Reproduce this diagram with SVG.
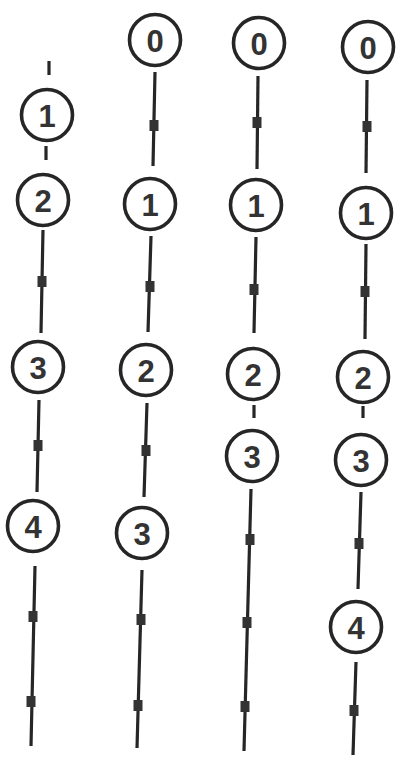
<svg xmlns="http://www.w3.org/2000/svg" width="403" height="757" viewBox="0 0 403 757">
<style>
.n circle{fill:#fff;stroke:#262626;stroke-width:3.6}
.n text{font-family:"Liberation Sans",Arial,sans-serif;font-weight:bold;font-size:31px;fill:#333;text-anchor:middle;dominant-baseline:central}
.e line{stroke:#262626;stroke-width:3.2}
.m{fill:#333}
</style>
<rect width="403" height="757" fill="#fff"/>
<g id="connectors" class="e">
<line x1="49" y1="61" x2="49" y2="75"/>
<line x1="46" y1="146" x2="46" y2="160"/>
<line x1="43" y1="230" x2="41" y2="333"/>
<line x1="39" y1="400" x2="37" y2="492"/>
<line x1="35" y1="566" x2="31" y2="746"/>
<line x1="155" y1="72" x2="153" y2="166"/>
<line x1="151" y1="236" x2="148" y2="332"/>
<line x1="147" y1="403" x2="144" y2="497"/>
<line x1="142" y1="570" x2="137" y2="748"/>
<line x1="258" y1="76" x2="257" y2="169"/>
<line x1="256" y1="237" x2="254" y2="333"/>
<line x1="254" y1="405" x2="254" y2="418"/>
<line x1="251" y1="489" x2="244" y2="751"/>
<line x1="367" y1="80" x2="366" y2="173"/>
<line x1="366" y1="244" x2="365" y2="339"/>
<line x1="363" y1="406" x2="363" y2="418"/>
<line x1="361" y1="492" x2="358" y2="589"/>
<line x1="356" y1="662" x2="353" y2="755"/>
<rect class="m" x="37.5" y="276" width="9" height="11"/>
<rect class="m" x="33.5" y="440" width="9" height="11"/>
<rect class="m" x="28.5" y="611" width="9" height="11"/>
<rect class="m" x="26.5" y="696" width="9" height="11"/>
<rect class="m" x="149.5" y="120" width="9" height="11"/>
<rect class="m" x="145.5" y="281" width="9" height="11"/>
<rect class="m" x="141.5" y="445" width="9" height="11"/>
<rect class="m" x="136.5" y="614" width="9" height="11"/>
<rect class="m" x="133.5" y="700" width="9" height="11"/>
<rect class="m" x="252.5" y="117" width="9" height="11"/>
<rect class="m" x="249.5" y="284" width="9" height="11"/>
<rect class="m" x="245.5" y="534" width="9" height="11"/>
<rect class="m" x="242.5" y="617" width="9" height="11"/>
<rect class="m" x="240.5" y="701" width="9" height="11"/>
<rect class="m" x="362.5" y="121" width="9" height="11"/>
<rect class="m" x="360.5" y="286" width="9" height="11"/>
<rect class="m" x="354.5" y="538" width="9" height="11"/>
<rect class="m" x="349.5" y="705" width="9" height="11"/>
</g>
<g id="c1n1" class="n"><circle cx="47" cy="115" r="25.5"/><text x="47" y="116">1</text></g>
<g id="c1n2" class="n"><circle cx="43" cy="200" r="25.5"/><text x="43" y="201">2</text></g>
<g id="c1n3" class="n"><circle cx="38" cy="367" r="25.5"/><text x="38" y="368">3</text></g>
<g id="c1n4" class="n"><circle cx="33" cy="526" r="25.5"/><text x="33" y="527">4</text></g>
<g id="c2n0" class="n"><circle cx="155" cy="40" r="25.5"/><text x="155" y="41">0</text></g>
<g id="c2n1" class="n"><circle cx="150" cy="204" r="25.5"/><text x="150" y="205">1</text></g>
<g id="c2n2" class="n"><circle cx="146" cy="370" r="25.5"/><text x="146" y="371">2</text></g>
<g id="c2n3" class="n"><circle cx="142" cy="533" r="25.5"/><text x="142" y="534">3</text></g>
<g id="c3n0" class="n"><circle cx="259" cy="43" r="25.5"/><text x="259" y="44">0</text></g>
<g id="c3n1" class="n"><circle cx="256" cy="205" r="25.5"/><text x="256" y="206">1</text></g>
<g id="c3n2" class="n"><circle cx="253" cy="374" r="25.5"/><text x="253" y="375">2</text></g>
<g id="c3n3" class="n"><circle cx="252" cy="456" r="25.5"/><text x="252" y="457">3</text></g>
<g id="c4n0" class="n"><circle cx="368" cy="47" r="25.5"/><text x="368" y="48">0</text></g>
<g id="c4n1" class="n"><circle cx="366" cy="213" r="25.5"/><text x="366" y="214">1</text></g>
<g id="c4n2" class="n"><circle cx="363" cy="377" r="25.5"/><text x="363" y="378">2</text></g>
<g id="c4n3" class="n"><circle cx="361" cy="460" r="25.5"/><text x="361" y="461">3</text></g>
<g id="c4n4" class="n"><circle cx="356" cy="627" r="25.5"/><text x="356" y="628">4</text></g>
</svg>
